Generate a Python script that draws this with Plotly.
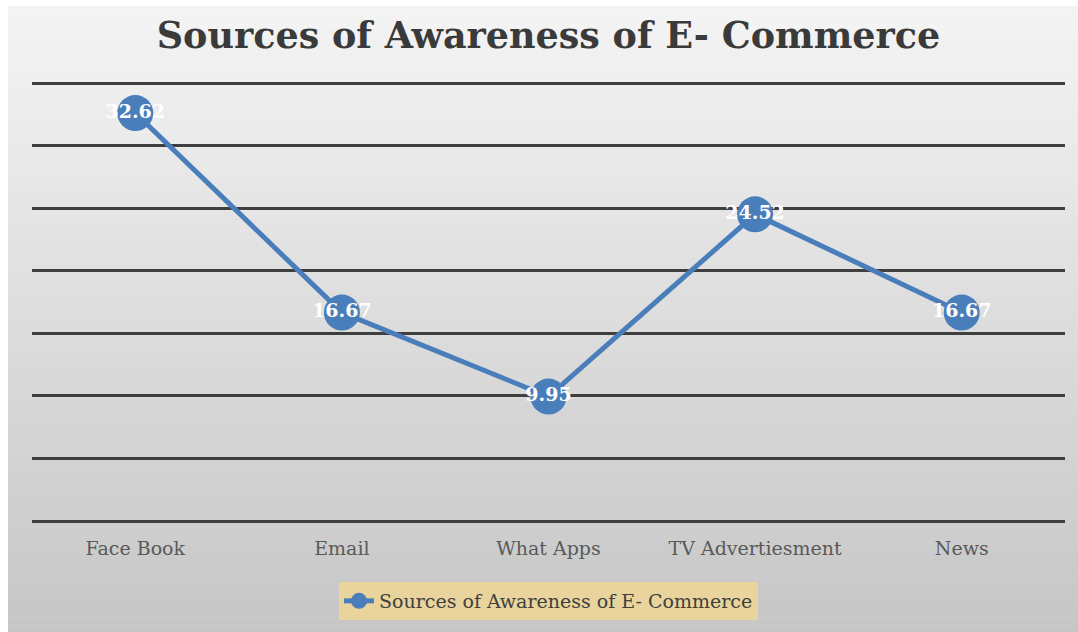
import plotly.graph_objects as go

categories = ["Face Book", "Email", "What Apps", "TV Advertiesment", "News"]
values = [32.62, 16.67, 9.95, 24.52, 16.67]
series_name = "Sources of Awareness of E- Commerce"
title_text = "Sources of Awareness of E- Commerce"

W, H = 1078, 632
ML, MR, MT, MB = 32, 13, 77, 111
PW, PH = W - ML - MR, H - MT - MB

def px_x(p):
    return (p - ML) / PW

def px_y(p):
    return (H - MB - p) / PH

fig = go.Figure()
fig.add_trace(go.Scatter(
    x=categories, y=values, name=series_name,
    mode="lines+markers+text",
    line=dict(color="#4a7ebb", width=5),
    marker=dict(color="#4a7ebb", size=36),
    text=[f"{v:.2f}" for v in values],
    textposition="middle center",
    textfont=dict(family="DejaVu Serif", size=19, color="white", weight="bold"),
))

# gradient background as thin bands
shapes = []
n = 80
top, bot = 6, H
c0, c1 = 0xf4, 0xc6
for i in range(n):
    y0p = top + (bot - top) * i / n
    y1p = top + (bot - top) * (i + 1) / n + 0.5
    c = int(round(c0 + (c1 - c0) * (i + 0.5) / n))
    col = f"rgb({c},{c},{c})"
    shapes.append(dict(type="rect", xref="paper", yref="paper", layer="below",
                       x0=px_x(8), x1=px_x(W + 2), y0=px_y(y1p), y1=px_y(y0p),
                       fillcolor=col, line=dict(width=0)))

fig.update_layout(
    width=W, height=H,
    margin=dict(l=ML, r=MR, t=MT, b=MB, autoexpand=False),
    paper_bgcolor="white", plot_bgcolor="rgba(0,0,0,0)",
    shapes=shapes,
    title=dict(text=f"<b>{title_text}</b>", x=0.5, xref="paper", xanchor="center",
               y=1 - 35 / H, yref="container", yanchor="middle",
               font=dict(family="DejaVu Serif", size=36.5, color="#3a3a3a")),
    xaxis=dict(range=[-0.5, 4.5], showgrid=False, zeroline=False, showline=False,
               tickfont=dict(family="DejaVu Serif", size=19, color="#595959"),
               ticks="outside", ticklen=10, tickcolor="rgba(0,0,0,0)"),
    yaxis=dict(range=[0, 35.5], dtick=5, showticklabels=False, showgrid=True,
               gridcolor="#3f3f3f", gridwidth=2.5, zeroline=True,
               zerolinecolor="#3f3f3f", zerolinewidth=3, showline=False),
    showlegend=True,
    legend=dict(orientation="h", x=0.5, xanchor="center", y=px_y(582), yanchor="top",
                bgcolor="#e8d49c", font=dict(family="DejaVu Serif", size=19, color="#404040"),
                itemwidth=30),
)

fig.write_html("out.html")
